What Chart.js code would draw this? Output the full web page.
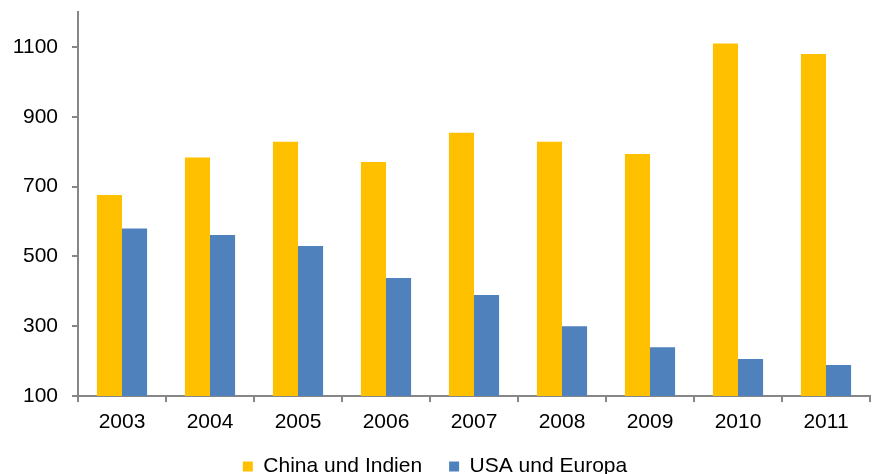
<!DOCTYPE html>
<html><head><meta charset="utf-8">
<script src="https://cdn.jsdelivr.net/npm/chart.js@4"></script>
<style>html,body{margin:0;padding:0;background:#fff}#wrap{width:878px;height:474px}</style>
</head><body><div id="wrap"><canvas id="c" width="878" height="474"></canvas></div>
<script>
const categories = ["2003","2004","2005","2006","2007","2008","2009","2010","2011"];
const chinaIndien = [676,783,828,770,854,828,793,1110,1080];
const usaEuropa = [580,561,530,438,389,300,240,206,189];
const yTicks = [100,300,500,700,900,1100];
const seriesNames = ["China und Indien","USA und Europa"];

const FONT = "'Liberation Sans', Arial, sans-serif";
const AXIS = "#868686";
new Chart(document.getElementById('c'), {
  type: 'bar',
  data: {
    labels: categories,
    datasets: [
      {label: seriesNames[0], data: chinaIndien, backgroundColor: '#FFC000', categoryPercentage: 0.57, barPercentage: 1},
      {label: seriesNames[1], data: usaEuropa, backgroundColor: '#4F81BD', categoryPercentage: 0.57, barPercentage: 1}
    ]
  },
  options: {
    responsive: false, animation: false, devicePixelRatio: 1,
    layout: {padding: {left: 0, right: 8, top: 12, bottom: -13}},
    plugins: {
      tooltip: {enabled: false},
      legend: {
        position: 'bottom',
        labels: {boxWidth: 10, boxHeight: 10, padding: 27, color: '#000', font: {family: FONT, size: 21}}
      }
    },
    scales: {
      x: {
        offset: true,
        afterFit: (s) => { s.height = 33; s.paddingLeft = 0; s.paddingRight = 0; },
        grid: {display: true, offset: true, drawOnChartArea: false, color: AXIS, lineWidth: 2, tickLength: 6},
        border: {color: AXIS, width: 2},
        ticks: {color: '#000', padding: 10, font: {family: FONT, size: 21, lineHeight: 1}, maxRotation: 0}
      },
      y: {
        min: 100, max: 1200,
        afterBuildTicks: (s) => { s.ticks = yTicks.map(v => ({value: v})); },
        afterFit: (s) => { s.width = 78; s.paddingTop = 0; s.paddingBottom = 0; },
        grid: {display: true, drawOnChartArea: false, color: AXIS, lineWidth: 2, tickLength: 6},
        border: {color: AXIS, width: 2},
        ticks: {color: '#000', padding: 14, font: {family: FONT, size: 21}, callback: (v) => String(v)}
      }
    }
  }
});
</script></body></html>
